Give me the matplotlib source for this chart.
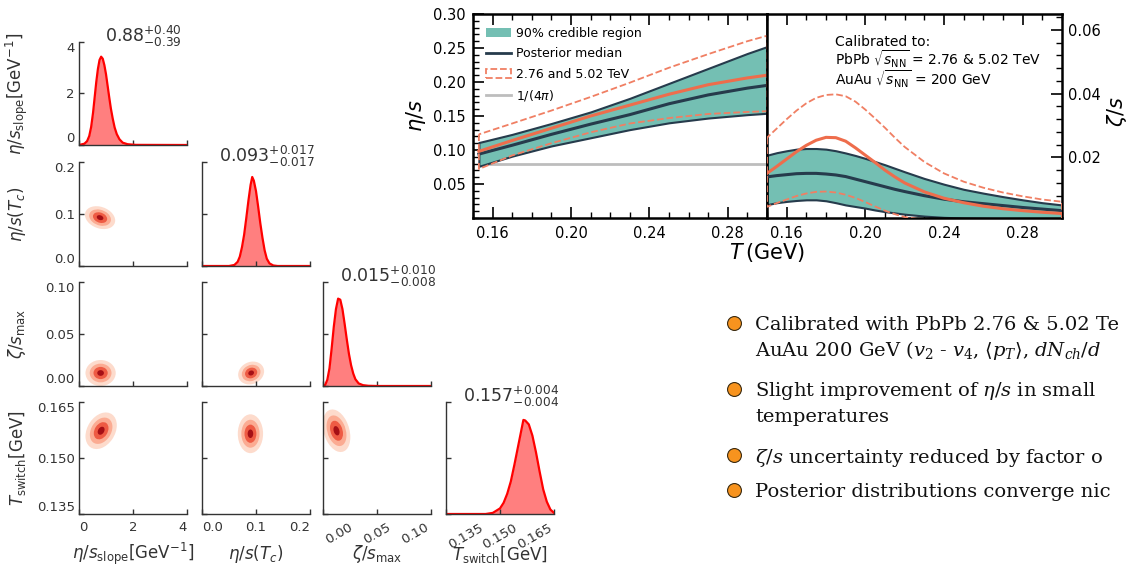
import numpy as np
import matplotlib
matplotlib.use("Agg")
import matplotlib.pyplot as plt
import matplotlib.ticker as mticker
from matplotlib.patches import Ellipse, Patch
from matplotlib.lines import Line2D
from matplotlib.transforms import Affine2D

# ---------------- data: eta/s (T) ----------------
T_eta = [0.153, 0.17, 0.19, 0.21, 0.23, 0.25, 0.27, 0.29, 0.30]
eta_lo = [0.076, 0.091, 0.106, 0.118, 0.130, 0.140, 0.147, 0.152, 0.154]
eta_hi = [0.111, 0.123, 0.139, 0.156, 0.176, 0.198, 0.220, 0.242, 0.252]
eta_med = [0.094, 0.107, 0.123, 0.138, 0.152, 0.168, 0.181, 0.191, 0.195]
eta_prev_med = [0.098, 0.114, 0.132, 0.150, 0.166, 0.182, 0.196, 0.206, 0.210]
eta_prev_lo = [0.072, 0.092, 0.110, 0.126, 0.139, 0.147, 0.153, 0.156, 0.157]
eta_prev_hi = [0.123, 0.139, 0.158, 0.178, 0.199, 0.221, 0.241, 0.260, 0.268]
eta_kss = 1.0 / (4.0 * np.pi)

# ---------------- data: zeta/s (T) ----------------
T_zeta = [0.150, 0.155, 0.160, 0.165, 0.170, 0.175, 0.180, 0.185, 0.190, 0.195,
          0.200, 0.205, 0.210, 0.215, 0.220, 0.230, 0.240, 0.250, 0.260, 0.270,
          0.280, 0.290, 0.300]
zeta_hi = [0.0207, 0.0215, 0.0221, 0.0226, 0.0228, 0.0228, 0.0226, 0.0221, 0.0214,
           0.0206, 0.0197, 0.0187, 0.0177, 0.0166, 0.0155, 0.0134, 0.0116, 0.0100,
           0.0088, 0.0077, 0.0067, 0.0058, 0.0051]
zeta_med = [0.0139, 0.0143, 0.0146, 0.0149, 0.0150, 0.0150, 0.0148, 0.0145, 0.0140,
            0.0132, 0.0124, 0.0116, 0.0108, 0.0100, 0.0093, 0.0080, 0.0069, 0.0061,
            0.0055, 0.0049, 0.0043, 0.0038, 0.0033]
zeta_lo = [0.0052, 0.0058, 0.0062, 0.0065, 0.0067, 0.0067, 0.0064, 0.0058, 0.0051,
           0.0046, 0.0041, 0.0035, 0.0030, 0.0026, 0.0022, 0.0016, 0.0012, 0.0010,
           0.0009, 0.0008, 0.0007, 0.0006, 0.0005]
zeta_prev_med = [0.0150, 0.0172, 0.0195, 0.0218, 0.0238, 0.0254, 0.0263, 0.0262,
                 0.0251, 0.0230, 0.0207, 0.0184, 0.0160, 0.0139, 0.0120, 0.0092,
                 0.0072, 0.0058, 0.0047, 0.0039, 0.0033, 0.0028, 0.0024]
zeta_prev_hi = [0.0262, 0.0291, 0.0320, 0.0347, 0.0370, 0.0387, 0.0396, 0.0398,
                0.0392, 0.0375, 0.0350, 0.0322, 0.0293, 0.0262, 0.0233, 0.0186,
                0.0150, 0.0124, 0.0105, 0.0090, 0.0078, 0.0068, 0.0061]
zeta_prev_lo = [0.0045, 0.0057, 0.0068, 0.0079, 0.0087, 0.0092, 0.0093, 0.0090,
                0.0083, 0.0073, 0.0060, 0.0046, 0.0033, 0.0022, 0.0013, 0.0004,
                0.0, 0.0, 0.0, 0.0, 0.0, 0.0, 0.0]

# ---------------- data: corner plot ----------------
par_labels = [r"$\eta/s_{\rm slope}[{\rm GeV}^{-1}]$", r"$\eta/s(T_c)$",
              r"$\zeta/s_{\rm max}$", r"$T_{\rm switch}[{\rm GeV}]$"]
par_lims = [(0, 4), (0, 0.2), (0, 0.1), (0.135, 0.165)]
par_ticks = [[0, 2, 4], [0.0, 0.1, 0.2], [0.0, 0.05, 0.10], [0.135, 0.150, 0.165]]
par_ticklabels = [["0", "2", "4"], ["0.0", "0.1", "0.2"],
                  ["0.00", "0.05", "0.10"], ["0.135", "0.150", "0.165"]]
par_titles = [r"$0.88^{+0.40}_{-0.39}$", r"$0.093^{+0.017}_{-0.017}$",
              r"$0.015^{+0.010}_{-0.008}$", r"$0.157^{+0.004}_{-0.004}$"]

diag0_x = [0.00, 0.20, 0.30, 0.38, 0.45, 0.52, 0.58, 0.64, 0.70, 0.76, 0.82, 0.88,
           0.94, 1.00, 1.06, 1.12, 1.18, 1.25, 1.32, 1.40, 1.50, 1.62, 1.80, 2.10, 4.00]
diag0_y = [0.00, 0.05, 0.15, 0.35, 0.70, 1.25, 1.85, 2.45, 2.95, 3.30, 3.43, 3.35,
           3.10, 2.75, 2.30, 1.85, 1.42, 1.02, 0.68, 0.42, 0.22, 0.09, 0.03, 0.005, 0.0]
diag1_x = [0.000, 0.050, 0.060, 0.066, 0.070, 0.074, 0.078, 0.082, 0.086, 0.090,
           0.093, 0.096, 0.100, 0.104, 0.108, 0.112, 0.116, 0.120, 0.125, 0.132,
           0.140, 0.200]
diag1_y = [0.0, 0.0, 0.01, 0.04, 0.09, 0.18, 0.30, 0.46, 0.63, 0.78, 0.856, 0.82,
           0.72, 0.57, 0.41, 0.27, 0.15, 0.07, 0.025, 0.005, 0.0, 0.0]
diag2_x = [0.000, 0.002, 0.004, 0.006, 0.008, 0.010, 0.012, 0.014, 0.016, 0.018,
           0.020, 0.022, 0.024, 0.026, 0.028, 0.030, 0.033, 0.037, 0.042, 0.050, 0.100]
diag2_y = [0.0, 0.01, 0.06, 0.17, 0.36, 0.57, 0.74, 0.84, 0.83, 0.74, 0.60, 0.45,
           0.31, 0.20, 0.12, 0.065, 0.025, 0.008, 0.002, 0.0, 0.0]
diag3_x = [0.135, 0.146, 0.148, 0.150, 0.151, 0.152, 0.153, 0.154, 0.155, 0.156,
           0.1565, 0.157, 0.158, 0.159, 0.160, 0.161, 0.162, 0.163, 0.164, 0.165]
diag3_y = [0.0, 0.0, 0.01, 0.05, 0.10, 0.18, 0.29, 0.44, 0.60, 0.76, 0.84, 0.835,
           0.80, 0.70, 0.55, 0.38, 0.22, 0.11, 0.04, 0.01]
diag_x = [diag0_x, diag1_x, diag2_x, diag3_x]
diag_y = [diag0_y, diag1_y, diag2_y, diag3_y]

# 2D posteriors: (row, col): centre x, centre y, outer half-width x, outer half-width y, correlation
blob_pairs = [(1, 0), (2, 0), (2, 1), (3, 0), (3, 1), (3, 2)]
blob_cx = [0.78, 0.80, 0.091, 0.82, 0.0897, 0.0125]
blob_cy = [0.093, 0.0125, 0.0125, 0.1573, 0.1565, 0.1573]
blob_sx = [0.56, 0.56, 0.024, 0.58, 0.0234, 0.0128]
blob_sy = [0.022, 0.0125, 0.011, 0.0049, 0.0052, 0.0057]
blob_rho = [-0.25, 0.0, 0.15, 0.3, 0.0, -0.3]
contour_scales = [1.0, 0.72, 0.47, 0.22]
contour_colors = ["#fddbcc", "#fbab92", "#ee5b44", "#a50f15"]

# ---------------- bullet text (as visible in the slide) ----------------
bullet_lines = [
    "Calibrated with PbPb 2.76 & 5.02 Te",
    r"AuAu 200 GeV ($v_2$ - $v_4$, $\langle p_T\rangle$, $dN_{ch}/d$",
    r"Slight improvement of $\eta/s$ in small",
    "temperatures",
    r"$\zeta/s$ uncertainty reduced by factor o",
    "Posterior distributions converge nic",
]

# ---------------- style ----------------
W, H = 1128, 567
TEAL = "#74bfb3"
DARK = "#263b4c"
ORANGE = "#ee6d4c"
ORANGE_D = "#f07f63"
GREY = "#bdbdbd"
CTXT = "#333333"

fig = plt.figure(figsize=(W / 100, H / 100), dpi=100)


def rect(left, top, w, h):
    return [left / W, 1 - (top + h) / H, w / W, h / H]


# ================= corner plot =================
cols_left = [79, 202, 323, 446]
col_w = 108
rows_top = [42, 162, 282, 402]
rows_h = [103, 104, 104, 112]

for i in range(4):
    for j in range(i + 1):
        ax = fig.add_axes(rect(cols_left[j], rows_top[i], col_w, rows_h[i]))
        for s in ["top", "right"]:
            ax.spines[s].set_visible(False)
        for s in ["left", "bottom"]:
            ax.spines[s].set_color(CTXT)
            ax.spines[s].set_linewidth(1.0)
        ax.tick_params(direction="in", length=3.5, width=1.0, color=CTXT,
                       labelcolor=CTXT, labelsize=9.5, pad=3)
        ax.tick_params(axis="x", pad=5)
        ax.set_xlim(par_lims[j])
        ax.set_xticks(par_ticks[j])
        if i == 3:
            ax.set_xticklabels(par_ticklabels[j])
            if j >= 2:
                plt.setp(ax.get_xticklabels(), rotation=30)
            xl = ax.get_xticklabels()
            xl[0].set_ha("left")
            xl[-1].set_ha("right")
            ax.set_xlabel(par_labels[j], fontsize=12, color=CTXT)
            ax.xaxis.set_label_coords(0.5, -0.36)
            ax.xaxis.label.set_va("center")
        else:
            ax.set_xticklabels([])

        if i == j:
            ax.fill_between(diag_x[j], 0, diag_y[j], color="red", alpha=0.5, lw=0)
            ax.plot(diag_x[j], diag_y[j], color="red", lw=1.6)
            if j == 0:
                ax.set_ylim(0, 4)
                ax.set_yticks([0, 2, 4])
                ax.set_yticklabels(["0", "2", "4"])
            else:
                ax.set_ylim(0, 1)
                ax.set_yticks([0, 0.5, 1.0])
                ax.set_yticklabels([])
            ax.text(0.6, 1.0, par_titles[j], transform=ax.transAxes, ha="center",
                    va="baseline", fontsize=12.5, color=CTXT)
        else:
            ax.set_ylim(par_lims[i])
            ax.set_yticks(par_ticks[i])
            if j == 0:
                ax.set_yticklabels(par_ticklabels[i])
            else:
                ax.set_yticklabels([])
            k = blob_pairs.index((i, j))
            sx, sy, r = blob_sx[k], blob_sy[k], blob_rho[k]
            for sc, colr in zip(contour_scales, contour_colors):
                m = np.array([[sc * sx, 0.0, blob_cx[k]],
                              [sc * r * sy, sc * sy * np.sqrt(1 - r * r), blob_cy[k]],
                              [0.0, 0.0, 1.0]])
                e = Ellipse((0, 0), 2, 2, facecolor=colr, edgecolor="none",
                            transform=Affine2D(m) + ax.transData)
                ax.add_patch(e)
        if j == 0:
            yl = ax.get_yticklabels()
            if yl and yl[0].get_text() != "":
                yl[0].set_va("bottom")
                yl[-1].set_va("top")
            ax.set_ylabel(par_labels[i], fontsize=12, color=CTXT)
            ax.yaxis.set_label_coords(-0.574, 0.5)
            ax.yaxis.label.set_va("center")

# ================= eta/s and zeta/s panels =================
axL = fig.add_axes(rect(473, 14, 294, 204))
axR = fig.add_axes(rect(767, 14, 295, 204))

for ax in (axL, axR):
    for s in ax.spines.values():
        s.set_linewidth(1.8)
    ax.set_xlim(0.15, 0.30)
    ax.set_xticks([0.16, 0.20, 0.24, 0.28])
    ax.set_xticklabels(["0.16", "0.20", "0.24", "0.28"])
    ax.xaxis.set_minor_locator(mticker.MultipleLocator(0.01))
    ax.tick_params(which="major", direction="in", length=8, width=1.2, labelsize=10.5)
    ax.tick_params(which="minor", direction="in", length=4, width=1.0)
    ax.tick_params(axis="x", which="both", top=True, pad=6)

# eta/s
axL.plot([T_eta[0], 0.30], [eta_kss, eta_kss], color=GREY, lw=2, zorder=1)
axL.fill_between(T_eta, eta_lo, eta_hi, facecolor=TEAL, edgecolor=DARK, lw=1.5, zorder=2)
axL.plot(T_eta, eta_med, color=DARK, lw=2.2, zorder=3)
axL.fill_between(T_eta, eta_prev_lo, eta_prev_hi, facecolor="none", edgecolor=ORANGE_D,
                 linestyle="--", lw=1.3, zorder=4)
axL.plot(T_eta, eta_prev_med, color=ORANGE, lw=2.2, zorder=5)
axL.set_ylim(0, 0.30)
axL.set_yticks([0.05, 0.10, 0.15, 0.20, 0.25, 0.30])
axL.set_yticklabels(["0.05", "0.10", "0.15", "0.20", "0.25", "0.30"])
axL.yaxis.set_minor_locator(mticker.MultipleLocator(0.01))
axL.tick_params(axis="y", which="both", left=True, right=False, pad=5)
axL.set_ylabel(r"$\eta/s$", fontsize=15)
axL.yaxis.set_label_coords(-0.195, 0.5)
axL.yaxis.label.set_va("center")
axL.set_xlabel(r"$T\,$(GeV)", fontsize=15)
axL.xaxis.set_label_coords(1.0, -0.17)
axL.xaxis.label.set_va("center")

handles = [
    Patch(facecolor=TEAL, edgecolor="none", label="90% credible region"),
    Line2D([], [], color=DARK, lw=2, label="Posterior median"),
    Patch(facecolor="none", edgecolor=ORANGE_D, linestyle="--", lw=1.3,
          label="2.76 and 5.02 TeV"),
    Line2D([], [], color=GREY, lw=2, label=r"$1/(4\pi)$"),
]
axL.legend(handles=handles, loc="upper left", frameon=False, fontsize=9,
           handlelength=2.0, handletextpad=0.4, labelspacing=0.6,
           borderaxespad=0.6)

# zeta/s
axR.fill_between(T_zeta, zeta_lo, zeta_hi, facecolor=TEAL, edgecolor=DARK, lw=1.5, zorder=2)
axR.plot(T_zeta, zeta_med, color=DARK, lw=2.2, zorder=3)
axR.fill_between(T_zeta, zeta_prev_lo, zeta_prev_hi, facecolor="none", edgecolor=ORANGE_D,
                 linestyle="--", lw=1.3, zorder=4)
axR.plot(T_zeta, zeta_prev_med, color=ORANGE, lw=2.2, zorder=5)
axR.set_ylim(0.001, 0.065)
axR.set_yticks([0.02, 0.04, 0.06])
axR.set_yticklabels(["0.02", "0.04", "0.06"])
axR.yaxis.set_minor_locator(mticker.MultipleLocator(0.004))
axR.yaxis.tick_right()
axR.tick_params(axis="y", which="both", left=False, right=True, pad=4)
axR.set_ylabel(r"$\zeta/s$", fontsize=15, rotation=90)
axR.yaxis.set_label_position("right")
axR.yaxis.set_label_coords(1.185, 0.52)
axR.yaxis.label.set_va("center")

axR.text(0.23, 0.845, "Calibrated to:", transform=axR.transAxes, fontsize=10, va="baseline")
axR.text(0.23, 0.748, r"PbPb $\sqrt{s_{\rm NN}}$ = 2.76 & 5.02 TeV", transform=axR.transAxes,
         fontsize=10, va="baseline")
axR.text(0.23, 0.650, r"AuAu $\sqrt{s_{\rm NN}}$ = 200 GeV", transform=axR.transAxes,
         fontsize=10, va="baseline")

# ================= bullets =================
text_baselines = [330, 356, 396, 422, 463, 497]
for line, yb in zip(bullet_lines, text_baselines):
    fig.text(755 / W, 1 - yb / H, line, fontsize=14, family="DejaVu Serif",
             math_fontfamily="dejavuserif", va="baseline", ha="left", color="#111111")
bullet_y = [323, 389, 455, 490]
for yb in bullet_y:
    fig.add_artist(Line2D([733.5 / W], [1 - yb / H], marker="o", markersize=10,
                          markerfacecolor="#f7931e", markeredgecolor="#3a2a10",
                          markeredgewidth=0.8, linestyle="none",
                          transform=fig.transFigure))

fig.savefig("out.png", dpi=100)
